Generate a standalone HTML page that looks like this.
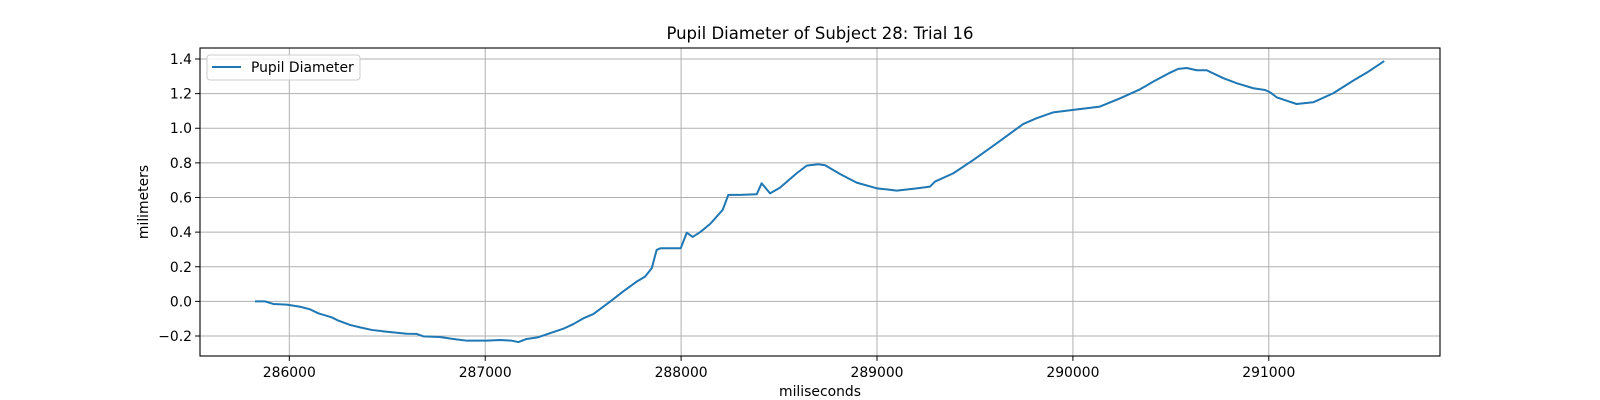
<!DOCTYPE html>
<html><head><meta charset="utf-8"><style>
html,body{margin:0;padding:0;background:#fff;}
svg{display:block;font-family:"DejaVu Sans","Liberation Sans",sans-serif;}
</style></head><body>
<svg id="chart" width="1600" height="400" viewBox="0 0 1600 400" xmlns="http://www.w3.org/2000/svg">
<rect width="1600" height="400" fill="#fff"/>
<g id="grid"></g>
<g id="series"></g>
<rect x="200" y="48" width="1240" height="308" fill="none" stroke="#000" stroke-width="1.1"/>
<g id="ticks"></g>
<text x="820" y="39" text-anchor="middle" font-size="16.5">Pupil Diameter of Subject 28: Trial 16</text>
<text x="820" y="396" text-anchor="middle" font-size="13.9">miliseconds</text>
<text transform="translate(148,202) rotate(-90)" text-anchor="middle" font-size="13.9">milimeters</text>
<g>
<rect x="207" y="55" width="153" height="25" rx="3" fill="#fff" fill-opacity="0.8" stroke="#ccc"/>
<line x1="212" y1="67" x2="241" y2="67" stroke="#1f77b4" stroke-width="2"/>
<text x="251" y="72" font-size="13.9">Pupil Diameter</text>
</g>
</svg>
<script>
const times = [285830,285876,285918,285987,286055,286106,286148,286216,286250,286310,286361,286421,286480,286531,286599,286650,286684,286769,286837,286906,287008,287076,287135,287169,287212,287271,287331,287399,287450,287501,287552,287637,287705,287773,287816,287850,287875,287896,287998,288029,288059,288096,288148,288212,288241,288301,288386,288411,288454,288505,288590,288641,288700,288735,288811,288896,288999,289101,289203,289271,289296,289390,289492,289611,289747,289815,289900,290002,290138,290241,290343,290410,290496,290538,290581,290632,290683,290768,290836,290921,290981,291006,291040,291091,291142,291227,291329,291431,291500,291585];
const diameters = [0.00,0.00,-0.015,-0.019,-0.031,-0.046,-0.069,-0.092,-0.111,-0.136,-0.150,-0.165,-0.173,-0.179,-0.187,-0.188,-0.202,-0.206,-0.217,-0.227,-0.227,-0.223,-0.227,-0.235,-0.217,-0.207,-0.184,-0.158,-0.131,-0.098,-0.073,-0.002,0.058,0.114,0.143,0.191,0.297,0.307,0.307,0.397,0.372,0.399,0.447,0.528,0.615,0.615,0.619,0.682,0.624,0.657,0.740,0.784,0.792,0.786,0.736,0.686,0.653,0.640,0.653,0.663,0.692,0.740,0.817,0.913,1.025,1.058,1.092,1.106,1.125,1.173,1.225,1.269,1.321,1.343,1.348,1.335,1.335,1.289,1.260,1.231,1.221,1.208,1.179,1.159,1.140,1.150,1.202,1.275,1.321,1.385];
const xTicks = [286000,287000,288000,289000,290000,291000];
const yTicks = [-0.2,0.0,0.2,0.4,0.6,0.8,1.0,1.2,1.4];
const yTickLabels = ["\u22120.2","0.0","0.2","0.4","0.6","0.8","1.0","1.2","1.4"];

const L=200,R=1440,T=48,B=356;
const X0=285544,X1=291874,Y0=-0.3155,Y1=1.4635;
const sx=v=>L+(v-X0)/(X1-X0)*(R-L);
const sy=v=>B-(v-Y0)/(Y1-Y0)*(B-T);
const NS="http://www.w3.org/2000/svg";
const grid=document.getElementById('grid'),ticks=document.getElementById('ticks'),series=document.getElementById('series');
function mk(tag,attrs,parent){const e=document.createElementNS(NS,tag);for(const k in attrs)e.setAttribute(k,attrs[k]);parent.appendChild(e);return e;}
xTicks.forEach(t=>{
  const x=sx(t);
  const g=mk('line',{x1:x,y1:T,x2:x,y2:B,stroke:'#b0b0b0','stroke-width':1},grid);
  
  
  const tk=mk('line',{x1:x,y1:B,x2:x,y2:B+4.9,stroke:'#000','stroke-width':1},ticks);
  
  
  const lb=mk('text',{x:x,y:B+21,'text-anchor':'middle','font-size':13.9},ticks);
  lb.textContent=String(t);
  
  
});
yTicks.forEach((t,i)=>{
  const y=sy(t);
  const g=mk('line',{x1:L,y1:y,x2:R,y2:y,stroke:'#b0b0b0','stroke-width':1},grid);
  
  
  const tk=mk('line',{x1:L-4.9,y1:y,x2:L,y2:y,stroke:'#000','stroke-width':1},ticks);
  
  
  const lb=mk('text',{x:L-8,y:y+5,'text-anchor':'end','font-size':13.9},ticks);
  lb.textContent=yTickLabels[i];
  
  
});
const d=times.map((t,i)=>(i?'L':'M')+sx(t).toFixed(2)+','+sy(diameters[i]).toFixed(2)).join(' ');
const p=mk('path',{d:d,fill:'none',stroke:'#1f77b4','stroke-width':2,'stroke-linejoin':'round','stroke-linecap':'square'},series);


</script>
</body></html>
